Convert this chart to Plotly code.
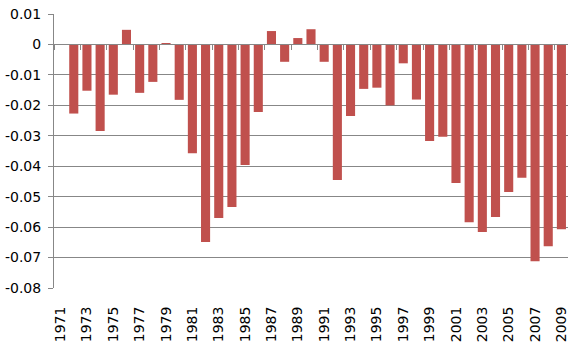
import plotly.graph_objects as go

years = [str(y) for y in range(1971, 2010)]
values = [None, -0.0227, -0.0152, -0.0284, -0.0165, 0.0048, -0.0159, -0.0123, 0.0003,
          -0.0182, -0.0357, -0.0649, -0.0570, -0.0534, -0.0396, -0.0222, 0.0044,
          -0.0057, 0.0021, 0.0050, -0.0057, -0.0445, -0.0235, -0.0146, -0.0142,
          -0.0200, -0.0062, -0.0181, -0.0317, -0.0303, -0.0455, -0.0584, -0.0616,
          -0.0567, -0.0485, -0.0438, -0.0712, -0.0663, -0.0607]
y_tickvals = [0.01, 0, -0.01, -0.02, -0.03, -0.04, -0.05, -0.06, -0.07, -0.08]
y_ticktext = ["0.01", "0", "-0.01", "-0.02", "-0.03", "-0.04", "-0.05", "-0.06", "-0.07", "-0.08"]
x_ticklabels = years[::2]

grid = "#878787"
yfont = dict(family="DejaVu Sans, sans-serif", size=14, color="#000000")
xfont = dict(family="DejaVu Sans, sans-serif", size=14, color="#000000")

n = len(years)
xrange = [-0.5, n - 0.5]

fig = go.Figure()
fig.add_trace(go.Bar(x=years, y=values, marker=dict(color="#C0504D", line=dict(width=0)),
                     showlegend=False, hoverinfo="x+y"))
fig.add_trace(go.Scatter(x=years, y=[0] * n, xaxis="x2", mode="markers",
                         marker=dict(opacity=0, size=1), showlegend=False, hoverinfo="skip"))

ymin, ymax = -0.08, 0.01
fig.update_layout(
    width=580, height=358,
    margin=dict(l=54, r=12, t=14, b=70),
    paper_bgcolor="white", plot_bgcolor="white",
    bargap=0.31,
    xaxis=dict(type="category", categoryorder="array", categoryarray=years, range=xrange,
               autorange=False, automargin=False,
               tickmode="array", tickvals=x_ticklabels, ticktext=x_ticklabels,
               tickangle=-90, showgrid=False, showline=False, zeroline=False,
               ticks="outside", ticklen=12, tickcolor="rgba(0,0,0,0)", tickfont=xfont),
    xaxis2=dict(type="category", categoryorder="array", categoryarray=years, range=xrange,
                autorange=False, automargin=False,
                overlaying="x", anchor="free", position=(0 - ymin) / (ymax - ymin),
                showticklabels=False, showgrid=False, showline=True, linecolor=grid, linewidth=1,
                ticks="outside", tickson="boundaries", ticklen=5, tickcolor=grid, tickwidth=1),
    yaxis=dict(range=[ymin, ymax], autorange=False, automargin=False,
               tickmode="array", tickvals=y_tickvals, ticktext=y_ticktext,
               showgrid=True, gridcolor=grid, gridwidth=1, zeroline=True, zerolinecolor=grid,
               zerolinewidth=1, showline=True, linecolor=grid, linewidth=1,
               ticks="outside", ticklen=5, tickcolor=grid, tickfont=yfont,
               ticklabelstandoff=4),
)

fig.write_html("out.html", config={"displayModeBar": False},
               post_script="document.body.style.margin='0';")
